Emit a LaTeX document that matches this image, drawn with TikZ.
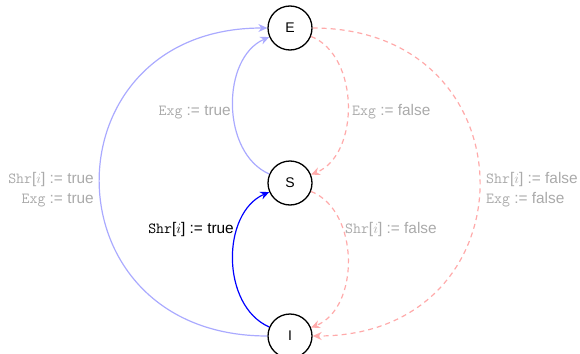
\documentclass[tikz,border=0pt]{standalone}
\usepackage{fontspec}
\setmainfont{Liberation Sans}
\usetikzlibrary{arrows.meta}
\definecolor{lblue}{RGB}{170,170,255}
\definecolor{lred}{RGB}{255,170,170}
\definecolor{lgray}{RGB}{170,170,170}
\tikzset{
  state/.style={circle,draw=black,line width=1.3pt,minimum size=44pt,inner sep=0pt,font=\fontsize{14}{16}\selectfont,fill=white},
  trans/.style={line width=1.2pt,-{Stealth[length=9pt,width=8pt,inset=3pt]}},
  bluet/.style={trans,draw=lblue,-{Stealth[length=9pt,width=8pt,inset=3pt,fill=lblue]}},
  darkt/.style={trans,draw=blue},
  redt/.style={trans,draw=lred,dash pattern=on 5pt off 4pt},
  lbl/.style={text=lgray,font=\fontsize{15.4}{20}\selectfont,inner sep=1pt},
  lblk/.style={text=black,font=\fontsize{15.4}{20}\selectfont,inner sep=1pt}
}
\begin{document}
\begin{tikzpicture}[x=1pt,y=-1pt]
\useasboundingbox (0,0) rectangle (580,353);
\node[state] (E) at (290,28) {E};
\node[state] (S) at (290,183) {S};
\node[state] (I) at (290,336) {I};
% red dashed
\draw[redt] (E) .. controls (360,56) and (360,155) .. (S);
\draw[redt] (S) .. controls (360,211) and (360,308) .. (I);
\draw[redt] (E) .. controls (535,28) and (535,336) .. (I);
% blue
\draw[bluet] (S) .. controls (221,153) and (221,58) .. (E);
\draw[bluet] (I) .. controls (44,336) and (44,28) .. (E);
\draw[darkt] (I) .. controls (221,306) and (221,213) .. (S);
% labels
\node[lbl,anchor=west] (l1) at (351,112) {\texttt{Exg} := false};
\node[lbl,anchor=west] (l2) at (344,230) {\texttt{Shr}[$i$] := false};
\node[lbl,anchor=west,align=left] (l3) at (485,190) {\texttt{Shr}[$i$] := false\\\texttt{Exg} := false};
\node[lbl,anchor=east] (l4) at (232,112) {\texttt{Exg} := true};
\node[lblk,anchor=east] (l5) at (235,230) {\texttt{Shr}[$i$] := true};
\node[lbl,anchor=east,align=right] (l6) at (95,190) {\texttt{Shr}[$i$] := true\\\texttt{Exg} := true};
\end{tikzpicture}
\end{document}
